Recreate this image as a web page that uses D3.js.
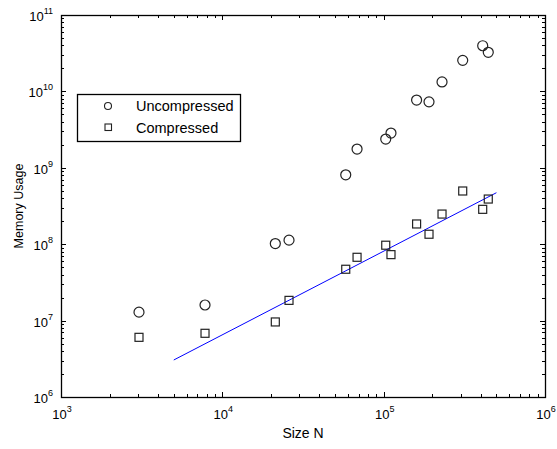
<!DOCTYPE html>
<html><head><meta charset="utf-8">
<script src="https://cdn.jsdelivr.net/npm/d3@7"></script>
<style>body{margin:0;background:#fff}svg{display:block}text{font-family:"Liberation Sans",Arial,sans-serif;fill:#000}</style>
</head><body><svg id="c" width="557" height="449"></svg>
<script>
const sizeN = [3044, 7810, 21300, 25900, 58200, 68400, 103000, 111000, 160000, 191000, 230000, 309000, 411000, 445000];
const uncompressed = [1.29e7, 1.6e7, 1.02e8, 1.13e8, 8.1e8, 1.76e9, 2.38e9, 2.85e9, 7.7e9, 7.3e9, 1.33e10, 2.55e10, 3.96e10, 3.25e10];
const compressed = [6.04e6, 6.82e6, 9.6e6, 1.84e7, 4.7e7, 6.74e7, 9.7e7, 7.3e7, 1.84e8, 1.35e8, 2.48e8, 4.97e8, 2.86e8, 3.9e8];
const fitX = [5000, 500000];
const fitY = [3.05e6, 4.72e8];
const xTickExp = [3, 4, 5, 6];
const yTickExp = [6, 7, 8, 9, 10, 11];
const legendLabels = ["Uncompressed", "Compressed"];
const xTitle = "Size N", yTitle = "Memory Usage";

const W = 557, H = 449, m = {l: 61, r: 12, t: 15, b: 52};
const svg = d3.select("#c");
const x = d3.scaleLog().domain([1e3, 1e6]).range([m.l, W - m.r]);
const y = d3.scaleLog().domain([1e6, 1e11]).range([H - m.b, m.t]);

// minor tick values
function minors(lo, hi) { const v = []; for (let e = lo; e < hi; e++) for (let k = 2; k <= 9; k++) v.push(k * Math.pow(10, e)); return v; }
const xMinor = minors(3, 6), yMinor = minors(6, 11);
const xMajor = xTickExp.map(e => Math.pow(10, e)), yMajor = yTickExp.map(e => Math.pow(10, e));

const g = svg.append("g").attr("stroke", "#000").attr("stroke-width", 1).attr("fill", "none");
const x0 = m.l, x1 = W - m.r, y0 = H - m.b, y1 = m.t;
function tick(xa, ya, xb, yb) { g.append("line").attr("x1", xa).attr("y1", ya).attr("x2", xb).attr("y2", yb); }
xMajor.forEach(v => { const p = Math.round(x(v)) + 0.5; tick(p, y0, p, y0 - 5); tick(p, y1, p, y1 + 5); });
xMinor.forEach(v => { const p = Math.round(x(v)) + 0.5; tick(p, y0, p, y0 - 3); tick(p, y1, p, y1 + 3); });
yMajor.forEach(v => { const p = Math.round(y(v)) + 0.5; tick(x0, p, x0 + 5, p); tick(x1, p, x1 - 5, p); });
yMinor.forEach(v => { const p = Math.round(y(v)) + 0.5; tick(x0, p, x0 + 3, p); tick(x1, p, x1 - 3, p); });
g.append("rect").attr("x", x0 + 0.5).attr("y", y1 + 0.5).attr("width", x1 - x0).attr("height", y0 - y1).attr("stroke-width", 1.3);

// tick labels
xTickExp.forEach(e => {
  const t = svg.append("text").attr("x", x(Math.pow(10, e)) + 1).attr("y", y0 + 22).attr("text-anchor", "middle").style("font-size", "13px");
  t.append("tspan").text("10");
  t.append("tspan").attr("dy", -7).style("font-size", "9px").text(e);
});
yTickExp.forEach(e => {
  const t = svg.append("text").attr("x", x0 - 8).attr("y", y(Math.pow(10, e)) + 6).attr("text-anchor", "end").style("font-size", "13px");
  t.append("tspan").text("10");
  t.append("tspan").attr("dy", -7).style("font-size", "9px").text(e);
});

svg.append("text").attr("x", (x0 + x1) / 2).attr("y", 438).attr("text-anchor", "middle").style("font-size", "14px").text(xTitle);
svg.append("text").attr("transform", `translate(23,${(y0 + y1) / 2}) rotate(-90)`).attr("text-anchor", "middle").style("font-size", "12.5px").text(yTitle);

// fit line
svg.append("line").attr("x1", x(fitX[0])).attr("y1", y(fitY[0])).attr("x2", x(fitX[1])).attr("y2", y(fitY[1]))
  .attr("stroke", "#0000ff").attr("stroke-width", 1);

// markers
svg.append("g").selectAll("circle").data(sizeN).join("circle")
  .attr("cx", (d) => x(d)).attr("cy", (d, i) => y(uncompressed[i])).attr("r", 5)
  .attr("fill", "none").attr("stroke", "#222").attr("stroke-width", 1.2);
svg.append("g").selectAll("rect").data(sizeN).join("rect")
  .attr("x", (d) => x(d) - 4).attr("y", (d, i) => y(compressed[i]) - 4).attr("width", 8).attr("height", 8)
  .attr("fill", "none").attr("stroke", "#222").attr("stroke-width", 1.2);

// legend
const lg = svg.append("g");
lg.append("rect").attr("x", 77.5).attr("y", 94.5).attr("width", 163).attr("height", 47).attr("fill", "#fff").attr("stroke", "#000").attr("stroke-width", 1.3);
lg.append("circle").attr("cx", 108).attr("cy", 106).attr("r", 3.5).attr("fill", "none").attr("stroke", "#222").attr("stroke-width", 1.1);
lg.append("rect").attr("x", 105).attr("y", 124).attr("width", 6.5).attr("height", 6.5).attr("fill", "none").attr("stroke", "#222").attr("stroke-width", 1.1);
lg.append("text").attr("x", 136).attr("y", 111).style("font-size", "14.5px").text(legendLabels[0]);
lg.append("text").attr("x", 136).attr("y", 133).style("font-size", "14.5px").text(legendLabels[1]);
</script></body></html>
